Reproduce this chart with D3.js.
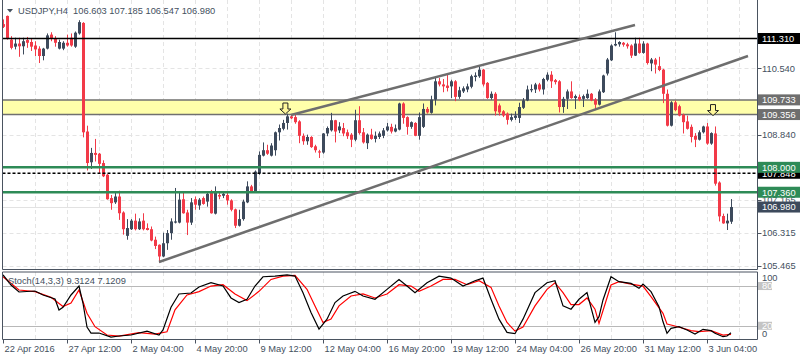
<!DOCTYPE html>
<html>
<head>
<meta charset="utf-8">
<script src="https://cdn.jsdelivr.net/npm/d3@7"></script>
<style>
  body { margin: 0; background: #fff; }
  svg { display: block; font-family: "Liberation Sans", Arial, sans-serif; }
  text { white-space: pre; }
</style>
</head>
<body>
<svg id="chart" width="800" height="360"></svg>
<script>
// ---- data ----
const opens = [
  111.68,111.89,111.28,111.10,111.18,111.11,111.27,111.22,111.13,111.05,
  110.86,111.05,111.41,111.30,111.05,111.05,111.20,111.33,111.10,111.44,
  111.71,108.92,108.13,108.37,108.35,108.11,107.81,107.21,107.10,107.25,
  106.84,106.24,106.41,106.63,106.41,106.63,106.44,106.41,106.14,106.01,
  105.71,106.05,106.31,106.58,106.58,107.18,106.84,106.58,107.18,107.02,
  107.21,107.12,107.35,106.81,107.29,107.27,107.29,107.15,106.92,106.50,
  106.67,107.10,107.51,107.38,107.85,108.30,108.44,108.30,108.44,108.90,
  108.99,109.14,109.31,109.29,109.18,108.81,108.67,108.78,108.54,108.41,
  108.38,108.87,108.95,109.21,108.95,109.01,108.90,108.84,108.71,109.21,
  108.90,108.62,108.84,108.73,108.78,108.81,108.95,109.04,108.92,108.97,
  109.64,109.29,109.04,109.14,108.81,109.04,109.50,109.40,109.74,110.21,
  110.13,110.10,110.08,110.21,109.81,109.95,110.00,110.07,110.32,110.34,
  110.51,110.17,109.78,109.89,109.59,109.44,109.38,109.22,109.27,109.27,
  109.53,109.72,109.98,110.00,110.13,110.00,110.25,110.38,110.24,110.21,
  109.55,109.76,109.95,109.78,109.81,109.76,109.78,109.89,109.74,109.61,
  109.93,110.41,110.75,111.13,111.16,111.20,111.16,111.13,110.87,111.18,
  110.94,111.18,110.67,110.77,110.60,110.51,109.89,109.07,109.67,109.57,
  109.35,109.18,109.04,108.81,108.71,108.90,109.05,108.61,108.87,107.61,
  106.75,106.56,106.603
];
const highs = [
  111.80,111.90,111.37,111.33,111.33,111.33,111.35,111.30,111.24,111.11,
  111.07,111.44,111.47,111.37,111.28,111.24,111.41,111.44,111.49,111.78,
  111.73,109.07,108.50,108.73,108.37,108.18,107.83,107.29,107.38,107.40,
  106.87,106.67,106.67,106.81,106.69,106.82,106.56,106.48,106.22,106.02,
  106.32,106.39,106.69,107.47,107.35,107.35,106.91,107.21,107.25,107.21,
  107.25,107.35,107.42,107.51,107.35,107.38,107.34,107.18,106.94,106.91,
  107.17,107.64,107.55,107.92,108.41,108.64,108.58,108.62,108.92,109.10,
  109.22,109.38,109.35,109.38,109.21,108.87,108.84,108.80,108.58,108.45,
  108.88,109.05,109.40,109.22,109.16,109.14,108.97,108.88,109.48,109.57,
  109.01,108.87,108.99,108.92,108.92,109.01,109.14,109.12,109.10,109.66,
  109.67,109.31,109.18,109.16,109.41,109.64,109.55,109.84,110.30,110.30,
  110.27,110.41,110.25,110.24,110.07,110.08,110.15,110.38,110.44,110.61,
  110.53,110.19,109.95,109.93,109.64,109.47,109.41,109.38,109.44,109.66,
  109.78,110.10,110.13,110.17,110.17,110.30,110.44,110.47,110.27,110.24,
  109.81,110.00,110.21,109.87,109.87,109.87,110.00,109.91,109.78,110.00,
  110.38,110.81,111.16,111.47,111.24,111.22,111.20,111.16,111.33,111.33,
  111.24,111.20,110.81,110.81,110.84,110.53,110.00,109.70,109.72,109.61,
  109.38,109.33,109.10,108.88,108.95,109.07,109.14,108.90,109.05,107.64,
  106.81,106.81,107.185
];
const lows = [
  111.58,111.28,111.03,111.03,110.84,110.90,111.07,110.99,110.86,110.68,
  110.75,111.03,111.24,111.10,111.03,111.01,111.10,111.10,111.07,111.41,
  108.77,107.92,107.96,108.15,107.85,107.75,107.17,106.91,107.06,106.65,
  106.27,106.14,106.39,106.38,106.39,106.38,106.38,106.10,105.90,105.55,
  105.69,105.88,106.14,106.56,106.56,106.81,106.26,106.52,106.91,106.91,
  107.04,106.99,106.81,106.79,107.18,107.21,107.04,106.87,106.44,106.48,
  106.63,107.08,107.34,107.35,107.81,108.28,108.32,108.28,108.30,108.69,
  108.95,108.97,109.24,109.12,108.62,108.58,108.58,108.50,108.38,108.24,
  108.35,108.80,108.92,108.64,108.88,108.80,108.73,108.52,108.67,108.84,
  108.61,108.47,108.71,108.64,108.73,108.75,108.92,108.87,108.90,108.95,
  109.12,108.84,108.99,108.80,108.71,109.01,109.38,109.38,109.59,110.08,
  109.93,109.95,109.78,109.70,109.76,109.91,109.93,110.03,110.21,110.30,
  110.08,109.76,109.74,109.33,109.33,109.29,109.10,109.18,109.22,109.14,
  109.50,109.70,109.93,109.91,109.95,109.87,110.21,110.04,110.13,109.41,
  109.40,109.50,109.76,109.50,109.70,109.55,109.76,109.70,109.47,109.59,
  109.91,110.36,110.73,111.11,111.10,111.10,111.05,110.81,110.86,110.92,
  110.92,110.64,110.47,110.41,110.47,109.65,109.05,109.05,109.44,109.31,
  108.87,108.97,108.64,108.52,108.69,108.87,108.58,108.58,107.53,106.61,
  106.55,106.39,106.547
];
const closes = [
  111.61,111.30,111.07,111.18,111.11,111.24,111.20,111.10,111.03,110.86,
  111.05,111.39,111.30,111.20,111.22,111.20,111.13,111.13,111.46,111.73,
  108.90,108.11,108.37,108.32,108.09,107.77,107.18,107.08,107.25,106.82,
  106.41,106.44,106.63,106.41,106.61,106.41,106.39,106.12,105.98,105.71,
  106.05,106.31,106.61,106.61,107.17,106.82,106.58,107.10,107.04,107.17,
  107.06,107.32,106.82,107.35,107.25,107.32,107.15,106.91,106.50,106.67,
  107.12,107.51,107.35,107.89,108.32,108.44,108.35,108.56,108.90,109.01,
  109.14,109.31,109.26,109.16,108.81,108.67,108.78,108.52,108.44,108.38,
  108.87,109.01,109.21,108.92,109.05,108.87,108.80,108.71,109.21,108.88,
  108.64,108.84,108.73,108.81,108.87,108.95,109.05,108.92,109.00,109.64,
  109.27,109.04,109.16,108.81,109.29,109.50,109.41,109.74,110.21,110.13,
  110.08,110.04,110.21,109.81,109.98,110.03,110.08,110.34,110.36,110.51,
  110.13,109.78,109.89,109.44,109.41,109.33,109.22,109.29,109.33,109.55,
  109.72,110.00,110.01,110.13,110.00,110.27,110.38,110.21,110.19,109.55,
  109.76,109.95,109.78,109.83,109.74,109.83,109.89,109.72,109.61,109.95,
  110.36,110.77,111.13,111.17,111.22,111.15,111.11,110.87,111.18,110.94,
  111.18,110.68,110.77,110.64,110.50,109.89,109.07,109.67,109.47,109.33,
  109.16,108.99,108.78,108.71,108.90,109.05,108.61,108.88,107.58,106.74,
  106.56,106.63,106.98
];

// stochastic %K (black) and %D (red), read as [bar, value]
const stochK = [
  [0,96.7],[2,81.6],[4,71],[8,72.5],[10,66.5],[13,60.5],[14,43.8],[15,48],[17,66.5],[19,80],
  [20,54],[21,18],[22,9],[24,9],[27,3],[29,4.5],[32,6],[36,12],[39,6],[40,13.6],
  [42,48],[44,68],[47,69.5],[49,78.6],[52,85],[55,80],[57,62],[59,55],[61,60],[63,80],
  [65,94],[68,95],[71,97],[73,95],[75,70],[77,40],[79,15],[81,30],[83,55],[85,65],
  [88,72],[90,65],[93,60],[96,75],[99,90],[101,80],[103,70],[106,85],[109,95],[112,92],
  [115,80],[118,88],[120,92],[122,60],[124,30],[126,10],[128,8],[130,30],[133,70],[136,85],
  [138,88],[140,50],[142,45],[144,60],[146,70],[148,25],[149,33.7],[150,59],[152,94],[154,86.6],
  [157,84],[159,76.6],[160,83],[162,71.5],[164,48.8],[165,26],[166,8.6],[167,16],[169,18.6],[171,13.6],
  [173,7.5],[175,14.6],[177,12.6],[178,8.6],[180,3.5],[181,4.5],[182,9.31]
];
const stochD = [
  [0,94],[4,74],[8,71.5],[12,63],[15,49],[17,54.4],[19,74],[21,39],[23,18.6],[26,6],
  [29,4.5],[34,9.5],[38,7.5],[41,11],[43,44],[46,66.5],[49,71.5],[52,80],[55,82],[58,68],
  [61,58],[64,72],[67,90],[70,95],[73,96],[76,75],[78,50],[80,25],[82,30],[84,50],
  [87,65],[90,68],[93,62],[96,68],[99,82],[102,80],[104,72],[107,80],[110,90],[113,90],
  [116,82],[119,88],[122,78],[124,50],[126,25],[128,12],[130,18],[133,50],[136,75],[138,85],
  [140,70],[142,52],[144,52],[146,62],[148,45],[149,23.7],[152,81.6],[154,86.6],[157,83],[160,80],
  [162,64],[165,38.8],[166,22.7],[168,19.6],[172,12.6],[174,11],[177,12.6],[180,6],[182,7.12]
];

const timeTickBars = [0, 16, 32, 48, 64, 80, 96, 112, 128, 144, 160, 176];
const timeTickLabels = ["22 Apr 2016", "27 Apr 12:00", "2 May 04:00", "4 May 20:00", "9 May 12:00",
  "12 May 04:00", "16 May 20:00", "19 May 12:00", "24 May 04:00", "26 May 20:00", "31 May 12:00", "3 Jun 04:00"];
// grid levels; only the ones not hidden by level tags get a text
const gridPrices = [110.540, 109.690, 108.840, 108.015, 107.165, 106.315, 105.465];
const priceTickLabels = [110.540, 108.840, 107.165, 106.315, 105.465];

const resistance = 111.310;
const zoneTop = 109.733, zoneBottom = 109.356;
const greenLevels = [108.000, 107.360];
const dashedLevel = 107.848;
const bidPrice = 106.980;
// trend lines as [bar, price] pairs
const channelLower = [[39, 105.567], [186.25, 110.86]];
const channelUpper = [[72, 109.344], [158, 111.657]];
const arrowMarks = [[70.6, 109.37], [177.5, 109.33]];
const stochLevels = [80, 20];

// ---- drawing ----
const svg = d3.select("#chart");
const bull = "#3d4a5c", bear = "#f23a48", txt = "#44505e";

const x = d3.scaleLinear().domain([0, 188.5]).range([3, 757]);
const y = d3.scaleLinear().domain([105.465, 111.31]).range([266, 38.5]);
const ys = d3.scaleLinear().domain([0, 100]).range([339, 272.8]);

const main = { top: 0, bottom: 269.5 };
const sub = { top: 272, bottom: 339.5 };
const left = 2.5, right = 757.5;

svg.append("rect").attr("width", 800).attr("height", 360).attr("fill", "#fff");

const defs = svg.append("defs");
defs.append("clipPath").attr("id", "clipMain").append("rect")
  .attr("x", left).attr("y", main.top).attr("width", right - left).attr("height", main.bottom - main.top);
defs.append("clipPath").attr("id", "clipSub").append("rect")
  .attr("x", left).attr("y", sub.top).attr("width", right - left).attr("height", sub.bottom - sub.top);

const gMain = svg.append("g").attr("clip-path", "url(#clipMain)");
const gSub = svg.append("g").attr("clip-path", "url(#clipSub)");

// grid
const gridBars = d3.range(8, 188, 8);
[gMain, gSub].forEach((g, k) => {
  const pane = k === 0 ? main : sub;
  g.selectAll("line.vgrid").data(gridBars).enter().append("line")
    .attr("x1", (d) => Math.round(x(d)) + 0.5).attr("x2", (d) => Math.round(x(d)) + 0.5)
    .attr("y1", pane.top).attr("y2", pane.bottom)
    .attr("stroke", "#e4e4e4").attr("stroke-dasharray", "4,3");
});
gMain.selectAll("line.hgrid").data(gridPrices).enter().append("line")
  .attr("x1", left).attr("x2", right)
  .attr("y1", (d) => Math.round(y(d)) + 0.5).attr("y2", (d) => Math.round(y(d)) + 0.5)
  .attr("stroke", "#e4e4e4").attr("stroke-dasharray", "4,3");

// support / resistance zone
gMain.append("rect").attr("x", left).attr("width", right - left)
  .attr("y", y(zoneTop)).attr("height", y(zoneBottom) - y(zoneTop)).attr("fill", "#ffffaa");
[zoneTop, zoneBottom].forEach((v) => {
  gMain.append("line").attr("x1", left).attr("x2", right).attr("y1", y(v)).attr("y2", y(v))
    .attr("stroke", "#707070").attr("stroke-width", 1.5);
});

// bid line
gMain.append("line").attr("x1", left).attr("x2", right)
  .attr("y1", Math.round(y(bidPrice)) + 0.5).attr("y2", Math.round(y(bidPrice)) + 0.5)
  .attr("stroke", "#e2e2e2");

// candles
const candles = opens.map((o, i) => ({ i, o, h: highs[i], l: lows[i], c: closes[i] }));
const cg = gMain.selectAll("g.candle").data(candles).enter().append("g")
  .attr("fill", (d) => (d.c >= d.o ? bull : bear));
cg.append("rect")
  .attr("x", (d) => Math.round(x(d.i)))
  .attr("width", 1)
  .attr("y", (d) => y(d.h))
  .attr("height", (d) => Math.max(1, y(d.l) - y(d.h)));
cg.append("rect")
  .attr("x", (d) => Math.round(x(d.i)) - 1)
  .attr("width", 3)
  .attr("y", (d) => y(Math.max(d.o, d.c)))
  .attr("height", (d) => Math.max(1, Math.abs(y(d.o) - y(d.c))));

// horizontal levels
gMain.append("line").attr("x1", left).attr("x2", right)
  .attr("y1", y(resistance)).attr("y2", y(resistance))
  .attr("stroke", "#000").attr("stroke-width", 1.5);
gMain.selectAll("line.green").data(greenLevels).enter().append("line")
  .attr("x1", left).attr("x2", right)
  .attr("y1", (d) => y(d)).attr("y2", (d) => y(d))
  .attr("stroke", "#2e8b57").attr("stroke-width", 2.5);
gMain.append("line").attr("x1", left).attr("x2", right)
  .attr("y1", y(dashedLevel)).attr("y2", y(dashedLevel))
  .attr("stroke", "#000").attr("stroke-width", 1.3).attr("stroke-dasharray", "3,2");

// channel lines
const line = d3.line().x((d) => x(d[0])).y((d) => y(d[1]));
[channelLower, channelUpper].forEach((pts) => {
  gMain.append("path").attr("d", line(pts)).attr("fill", "none")
    .attr("stroke", "#6e6e6e").attr("stroke-width", 2.5);
});

// arrows
gMain.selectAll("path.arrow").data(arrowMarks).enter().append("path")
  .attr("d", (d) => {
    const cx = x(d[0]), tip = y(d[1]);
    return `M${cx - 2.5},${tip - 11}h5v6h3l-5.5,5l-5.5,-5h3z`;
  })
  .attr("fill", "#fff79a").attr("stroke", "#222").attr("stroke-width", 1);

// stochastic
gSub.selectAll("line.lvl").data(stochLevels).enter().append("line")
  .attr("x1", left).attr("x2", right)
  .attr("y1", (d) => Math.round(ys(d)) + 0.5).attr("y2", (d) => Math.round(ys(d)) + 0.5)
  .attr("stroke", "#b8b8b8");
const sline = d3.line().x((d) => x(d[0])).y((d) => ys(d[1]));
gSub.append("path").attr("d", sline(stochD)).attr("fill", "none").attr("stroke", "#ff0000").attr("stroke-width", 1.2);
gSub.append("path").attr("d", sline(stochK)).attr("fill", "none").attr("stroke", "#000").attr("stroke-width", 1.2);

// borders
const border = svg.append("g").attr("fill", "none").attr("stroke", "#4a5360").attr("stroke-width", 1);
border.append("path").attr("d", `M${left},${main.top}V${main.bottom}H${right}V${main.top}`);
border.append("path").attr("d", `M${left},${sub.top}H${right}V${sub.bottom}H${left}Z`);

// price axis
const axis = svg.append("g").attr("font-size", "9.3px");
gridPrices.forEach((v) => {
  axis.append("line").attr("x1", right).attr("x2", right + 4)
    .attr("y1", Math.round(y(v)) + 0.5).attr("y2", Math.round(y(v)) + 0.5).attr("stroke", "#4a5360");
});
priceTickLabels.forEach((v) => {
  axis.append("text").attr("x", 762).attr("y", y(v) + 3.4).attr("fill", txt).text(v.toFixed(3));
});
function tag(v, fill) {
  axis.append("rect").attr("x", 758).attr("y", y(v) - 5.5).attr("width", 42).attr("height", 11).attr("fill", fill);
  axis.append("text").attr("x", 762).attr("y", y(v) + 3.4).attr("fill", "#fff").text(v.toFixed(3));
}
tag(resistance, "#000");
tag(zoneTop, "#6e6e6e");
tag(zoneBottom, "#6e6e6e");
tag(dashedLevel, "#000");
greenLevels.forEach((v) => tag(v, "#2e8b57"));
tag(bidPrice, bull);

// stochastic axis
stochLevels.forEach((v) => {
  const yy = ys(v);
  axis.append("rect").attr("x", 758).attr("y", yy - 4).attr("width", 14).attr("height", 8).attr("fill", "#c4c4c4");
  axis.append("text").attr("x", 762).attr("y", yy + 3.2).attr("fill", "#fff").text(String(v));
});
[[100, 277.5], [0, 333.5]].forEach(([v, yy]) => {
  axis.append("text").attr("x", 762).attr("y", yy + 3.4).attr("fill", txt).text(String(v));
});

// time axis
timeTickBars.forEach((b, k) => {
  const xx = Math.round(x(b)) + 0.5;
  axis.append("line").attr("x1", xx).attr("x2", xx).attr("y1", sub.bottom).attr("y2", sub.bottom + 4).attr("stroke", "#4a5360");
  axis.append("text").attr("x", xx + 1).attr("y", 352).attr("fill", txt).text(timeTickLabels[k]);
});

// titles
svg.append("path").attr("d", "M7,9H13L10,12.5Z").attr("fill", txt);
svg.append("text").attr("x", 18).attr("y", 14).attr("font-size", "9.3px").attr("fill", txt)
  .text("USDJPY,H4  106.603 107.185 106.547 106.980");
svg.append("text").attr("x", 8).attr("y", 284).attr("font-size", "9.3px").attr("fill", txt)
  .text("Stoch(14,3,3) 9.3124 7.1209");
</script>
</body>
</html>
